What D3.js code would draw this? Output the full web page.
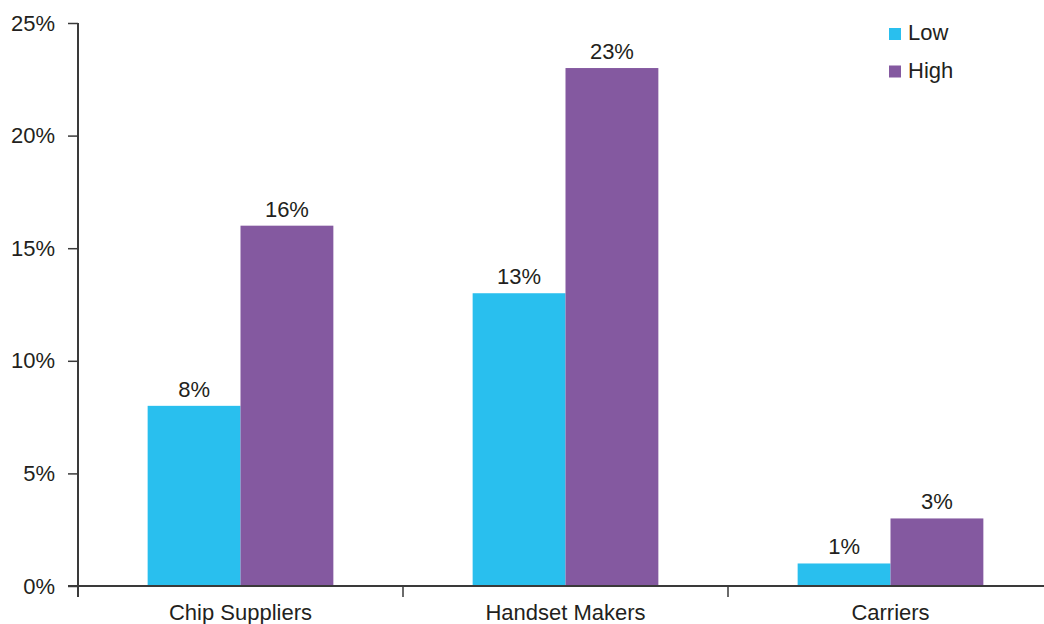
<!DOCTYPE html>
<html>
<head>
<meta charset="utf-8">
<script src="https://cdn.jsdelivr.net/npm/d3@7"></script>
<style>
  body { margin: 0; background: #fff; }
  svg text { font-family: "Liberation Sans", Arial, Helvetica, sans-serif; fill: #231f20; }
</style>
</head>
<body>
<div id="container"></div>
<script>
var categories = ["Chip Suppliers", "Handset Makers", "Carriers"];
var seriesNames = ["Low", "High"];
var lowValues = [8, 13, 1];
var highValues = [16, 23, 3];
var yTicks = [0, 5, 10, 15, 20, 25];

var width = 1044;
var height = 624;
var margin = {left: 78, top: 23, bottom: 38, right: 0};
var bandWidth = 325;
var fontSize = "22px";

var color = d3.scaleOrdinal()
    .domain(seriesNames)
    .range(["#29bfee", "#8459a0"]);

var data = categories.map((c, i) => ({category: c, Low: lowValues[i], High: highValues[i]}));

const svg = d3.select("#container")
    .append("svg")
    .attr("width", width)
    .attr("height", height);

var xScale = d3.scaleBand()
    .domain(categories)
    .range([margin.left, margin.left + bandWidth * categories.length]);

var inner = d3.scaleBand()
    .domain(seriesNames)
    .range([0, xScale.bandwidth()])
    .paddingOuter(0.75)
    .paddingInner(0);

var yScale = d3.scaleLinear()
    .domain([0, 25])
    .range([height - margin.bottom, margin.top]);

// bars
var groups = svg.selectAll(".group")
    .data(data)
    .enter()
    .append("g")
    .attr("transform", d => "translate(" + xScale(d.category) + ",0)");

groups.selectAll("rect")
    .data(d => seriesNames.map(k => ({key: k, value: d[k]})))
    .enter()
    .append("rect")
    .attr("x", d => inner(d.key))
    .attr("y", d => yScale(d.value))
    .attr("width", inner.bandwidth())
    .attr("height", d => yScale(0) - yScale(d.value))
    .attr("fill", d => color(d.key));

groups.selectAll(".val")
    .data(d => seriesNames.map(k => ({key: k, value: d[k]})))
    .enter()
    .append("text")
    .attr("class", "val")
    .attr("x", d => inner(d.key) + inner.bandwidth() / 2)
    .attr("y", d => yScale(d.value) - 9)
    .attr("text-anchor", "middle")
    .style("font-size", fontSize)
    .text(d => d.value + "%");

// axes
var yAxis = d3.axisLeft(yScale)
    .tickValues(yTicks)
    .tickSize(10)
    .tickPadding(13)
    .tickFormat(d => d + "%");

var xAxis = d3.axisBottom(xScale)
    .tickSize(0)
    .tickPadding(18);

var gy = svg.append("g")
    .attr("transform", "translate(" + margin.left + ",0)")
    .call(yAxis);
gy.select(".domain").remove();
gy.selectAll("line").attr("stroke", "#3a3a3a").attr("stroke-width", 1.5);
gy.selectAll("text").style("font-size", fontSize).attr("fill", "#231f20");

var gx = svg.append("g")
    .attr("transform", "translate(0," + yScale(0) + ")")
    .call(xAxis);
gx.select(".domain").remove();
gx.selectAll("text").style("font-size", fontSize).attr("fill", "#231f20").attr("dy", "0.71em");

// axis lines
svg.append("line")
    .attr("x1", margin.left).attr("x2", margin.left)
    .attr("y1", yScale(25)).attr("y2", yScale(0) + 11)
    .attr("stroke", "#3a3a3a").attr("stroke-width", 2);

svg.append("line")
    .attr("x1", margin.left - 10).attr("x2", width)
    .attr("y1", yScale(0)).attr("y2", yScale(0))
    .attr("stroke", "#3a3a3a").attr("stroke-width", 2);

// category separators
svg.selectAll(".sep")
    .data(categories.slice(1))
    .enter()
    .append("line")
    .attr("x1", d => xScale(d)).attr("x2", d => xScale(d))
    .attr("y1", yScale(0)).attr("y2", yScale(0) + 11)
    .attr("stroke", "#3a3a3a").attr("stroke-width", 1.5);

// legend
var size = 12;
svg.selectAll(".legrect")
    .data(seriesNames)
    .enter()
    .append("rect")
    .attr("x", 889)
    .attr("y", (d, i) => 28 + i * 37.5)
    .attr("width", size)
    .attr("height", size)
    .attr("fill", d => color(d));

svg.selectAll(".leglabel")
    .data(seriesNames)
    .enter()
    .append("text")
    .attr("x", 908)
    .attr("y", (d, i) => 40 + i * 37.5)
    .style("font-size", fontSize)
    .text(d => d);
</script>
</body>
</html>
